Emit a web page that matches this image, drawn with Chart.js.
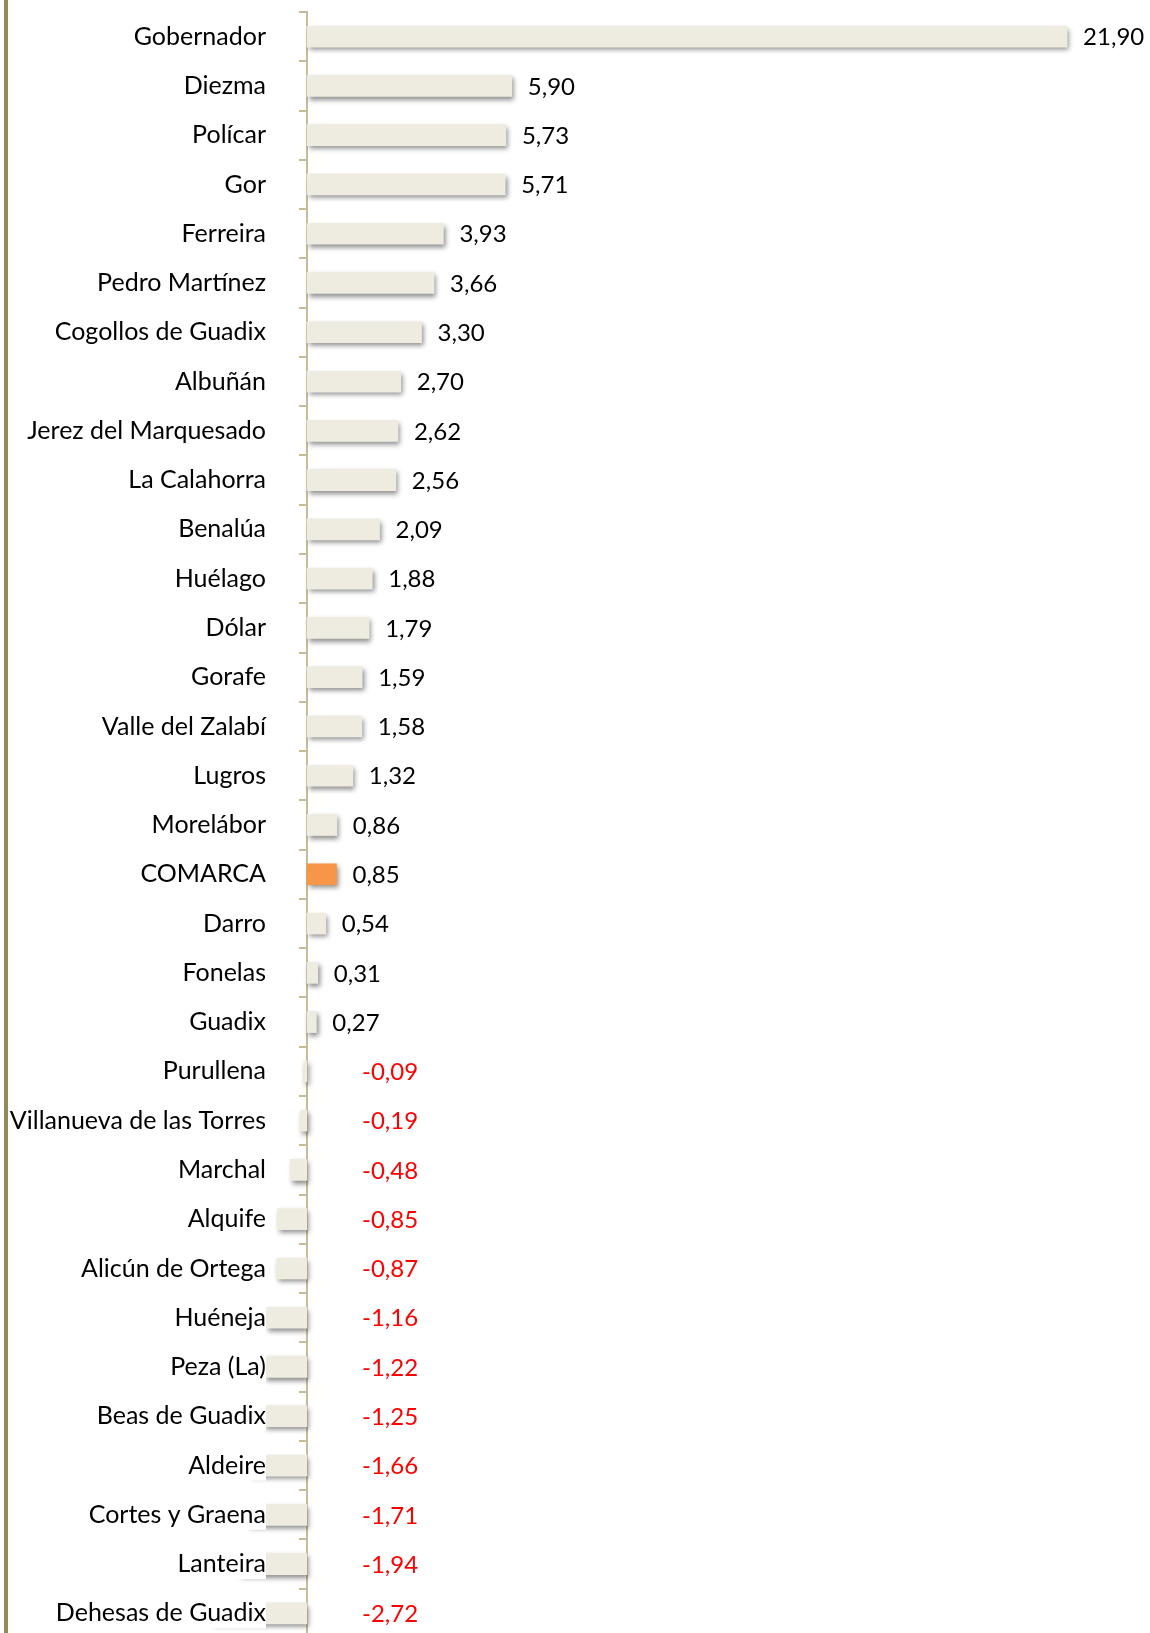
<!DOCTYPE html>
<html>
<head>
<meta charset="utf-8">
<script src="https://cdn.jsdelivr.net/npm/chart.js@4/dist/chart.umd.min.js"></script>
<style>
	html, body { margin:0; padding:0; background:#fff; overflow:hidden; }
	#wrap { position:relative; width:1150px; height:1640px; }
	#edge { position:absolute; left:4px; top:0; width:4px; height:1640px; background:#948A54; }
</style>
</head>
<body>
<div id="wrap"><canvas id="c"></canvas><div id="edge"></div></div>
<script>
const municipios = ['Gobernador','Diezma','Polícar','Gor','Ferreira','Pedro Martínez','Cogollos de Guadix','Albuñán',
	'Jerez del Marquesado','La Calahorra','Benalúa','Huélago','Dólar','Gorafe','Valle del Zalabí','Lugros','Morelábor',
	'COMARCA','Darro','Fonelas','Guadix','Purullena','Villanueva de las Torres','Marchal','Alquife','Alicún de Ortega',
	'Huéneja','Peza (La)','Beas de Guadix','Aldeire','Cortes y Graena','Lanteira','Dehesas de Guadix']
const variacion = [21.90,5.90,5.73,5.71,3.93,3.66,3.30,2.70,2.62,2.56,2.09,1.88,1.79,1.59,1.58,1.32,0.86,
	0.85,0.54,0.31,0.27,-0.09,-0.19,-0.48,-0.85,-0.87,-1.16,-1.22,-1.25,-1.66,-1.71,-1.94,-2.72]
const destacado = 'COMARCA'

const font = {family:'Lato', size:25}
const fmt = v => v.toFixed(2).replace('.', ',')

// sombra de las barras
const sombra = {
	id:'sombra',
	beforeDatasetDraw: c => {
		const x = c.ctx
		x.save()
		x.shadowColor = 'rgba(0,0,0,0.45)'
		x.shadowBlur = 5
		x.shadowOffsetX = 2
		x.shadowOffsetY = 3
	},
	afterDatasetDraw: c => c.ctx.restore()
}

// etiquetas de valor
const etiquetas = {
	id:'etiquetas',
	afterDatasetsDraw: c => {
		const x = c.ctx, m = c.getDatasetMeta(0), cero = c.scales.x.getPixelForValue(0)
		x.save()
		x.font = '24px ' + font.family
		x.textBaseline = 'middle'
		x.textAlign = 'left'
		m.data.forEach((b, i) => {
			const v = variacion[i]
			x.fillStyle = v < 0 ? '#FF0000' : '#000'
			x.fillText(fmt(v), v < 0 ? cero + 55 : b.x + 16, b.y + 1)
		})
		x.restore()
	}
}

new Chart(document.getElementById('c'), {
	type:'bar',
	data:{
		labels: municipios,
		datasets:[{
			data: variacion,
			backgroundColor: municipios.map(a => a == destacado ? '#F79646' : '#EEECE1'),
			borderWidth: 0,
			barThickness: 21,
			clip: false,
		}]
	},
	options:{
		indexAxis:'y',
		responsive:true,
		maintainAspectRatio:false,
		animation:false,
		layout:{ padding:{top:12, bottom:2, left:0, right:10} },
		plugins:{ legend:{display:false}, tooltip:{enabled:false} },
		scales:{
			x:{ display:false, min:0, max:24 },
			y:{
				afterFit: s => { s.width = 307; s.paddingTop = 0; s.paddingBottom = 0 },
				border:{ color:'#C4BD97', width:2 },
				grid:{ offset:true, drawOnChartArea:false, tickLength:8, color:'#C4BD97', lineWidth:2 },
				ticks:{
					z:1, color:'#000', font:font, padding:33, autoSkip:false,
					showLabelBackdrop:true, backdropColor:'#fff', backdropPadding:0
				}
			}
		}
	},
	plugins:[sombra, etiquetas]
})
</script>
</body>
</html>
